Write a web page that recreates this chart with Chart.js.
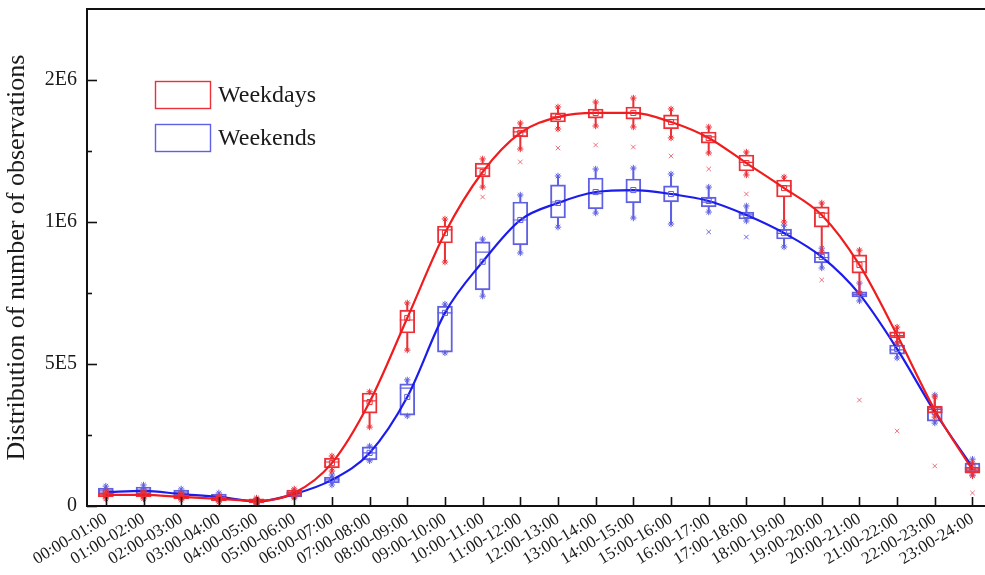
<!DOCTYPE html>
<html>
<head>
<meta charset="utf-8">
<script src="https://cdn.jsdelivr.net/npm/chart.js@4/dist/chart.umd.min.js"></script>
<style>
  html, body { margin: 0; padding: 0; background: #fff; }
  #wrap { width: 985px; height: 575px; overflow: hidden; position: relative; }
  canvas { display: block; }
</style>
</head>
<body>
<div id="wrap"><canvas id="c" width="1000" height="575" style="width:1000px;height:575px"></canvas></div>
<script>
// Hourly time slots
const HOURS = [
  '00:00-01:00','01:00-02:00','02:00-03:00','03:00-04:00','04:00-05:00','05:00-06:00',
  '06:00-07:00','07:00-08:00','08:00-09:00','09:00-10:00','10:00-11:00','11:00-12:00',
  '12:00-13:00','13:00-14:00','14:00-15:00','15:00-16:00','16:00-17:00','17:00-18:00',
  '18:00-19:00','19:00-20:00','20:00-21:00','21:00-22:00','22:00-23:00','23:00-24:00'
];

// Weekdays: box statistics per hour
const WD_MEAN   = [3.9e4, 3.9e4, 3.2e4, 2.5e4, 1.8e4, 4.6e4, 1.51e5, 3.66e5, 6.62e5, 9.61e5, 1.352e6, 1.627e6, 1.739e6, 1.768e6, 1.768e6, 1.704e6, 1.592e6, 1.415e6, 1.239e6, 1.049e6, 8.49e5, 6.02e5, 3.38e5, 1.27e5];
const WD_MEDIAN = [3.9e4, 3.9e4, 3.2e4, 2.5e4, 1.8e4, 4.6e4, 1.55e5, 3.70e5, 6.55e5, 9.72e5, 1.380e6, 1.634e6, 1.740e6, 1.770e6, 1.770e6, 1.720e6, 1.600e6, 1.420e6, 1.254e6, 1.063e6, 8.60e5, 6.00e5, 3.40e5, 1.27e5];
const WD_Q1     = [3.2e4, 3.2e4, 2.5e4, 1.8e4, 1.1e4, 3.5e4, 1.34e5, 3.27e5, 6.09e5, 9.26e5, 1.317e6, 1.599e6, 1.704e6, 1.732e6, 1.725e6, 1.655e6, 1.556e6, 1.359e6, 1.176e6, 9.82e5, 8.20e5, 5.92e5, 3.27e5, 1.16e5];
const WD_Q3     = [4.6e4, 4.6e4, 3.9e4, 3.2e4, 2.5e4, 5.6e4, 1.69e5, 3.98e5, 6.90e5, 9.86e5, 1.415e6, 1.669e6, 1.768e6, 1.796e6, 1.810e6, 1.754e6, 1.634e6, 1.472e6, 1.296e6, 1.106e6, 8.84e5, 6.13e5, 3.52e5, 1.37e5];
const WD_MIN    = [2.5e4, 2.5e4, 2.1e4, 1.4e4, 7.0e3, 3.2e4, 1.23e5, 2.78e5, 5.49e5, 8.59e5, 1.246e6, 1.514e6, 1.655e6, 1.676e6, 1.669e6, 1.592e6, 1.486e6, 1.331e6, 1.000e6, 8.94e5, 7.50e5, 5.74e5, 3.13e5, 1.06e5];
const WD_MAX    = [5.3e4, 5.3e4, 4.6e4, 3.5e4, 2.8e4, 6.0e4, 1.76e5, 4.02e5, 7.15e5, 1.021e6, 1.444e6, 1.697e6, 1.810e6, 1.845e6, 1.873e6, 1.796e6, 1.669e6, 1.493e6, 1.317e6, 1.134e6, 9.01e5, 6.30e5, 3.84e5, 1.51e5];
const WD_OUTLIER = [null, null, null, null, null, null, null, null, null, null, 1.176e6, 1.423e6, 1.521e6, 1.542e6, 1.528e6, 1.465e6, 1.373e6, 1.197e6, null, 7.96e5, 3.73e5, 2.64e5, 1.41e5, 4.6e4];

// Weekends: box statistics per hour
const WE_MEAN   = [4.9e4, 5.3e4, 4.2e4, 3.2e4, 1.6e4, 4.2e4, 9.2e4, 1.87e5, 3.84e5, 6.80e5, 8.60e5, 1.014e6, 1.134e6, 1.211e6, 1.225e6, 1.197e6, 1.148e6, 1.049e6, 9.61e5, 8.77e5, 7.46e5, 5.53e5, 3.31e5, 1.37e5];
const WE_MEDIAN = [5.3e4, 5.6e4, 4.6e4, 3.2e4, 1.6e4, 4.2e4, 9.2e4, 1.87e5, 4.15e5, 6.80e5, 8.94e5, 1.014e6, 1.141e6, 1.200e6, 1.220e6, 1.200e6, 1.140e6, 1.050e6, 9.60e5, 8.75e5, 7.45e5, 5.50e5, 3.30e5, 1.35e5];
const WE_Q1     = [4.2e4, 4.2e4, 3.5e4, 2.5e4, 1.1e4, 3.2e4, 8.1e4, 1.62e5, 3.20e5, 5.42e5, 7.61e5, 9.19e5, 1.028e6, 1.092e6, 1.134e6, 1.141e6, 1.106e6, 1.021e6, 9.40e5, 8.56e5, 7.36e5, 5.35e5, 2.99e5, 1.20e5];
const WE_Q3     = [6.3e4, 6.7e4, 5.6e4, 4.2e4, 2.1e4, 4.9e4, 1.02e5, 2.08e5, 4.30e5, 7.04e5, 9.30e5, 1.141e6, 1.261e6, 1.310e6, 1.303e6, 1.254e6, 1.176e6, 1.070e6, 9.75e5, 8.94e5, 7.54e5, 5.67e5, 3.49e5, 1.51e5];
const WE_MIN    = [3.5e4, 3.5e4, 3.2e4, 2.1e4, 7.0e3, 2.8e4, 7.4e4, 1.59e5, 3.17e5, 5.39e5, 7.39e5, 8.91e5, 9.82e5, 1.063e6, 1.028e6, 9.93e5, 1.070e6, 1.007e6, 9.12e5, 8.38e5, 7.22e5, 5.21e5, 2.92e5, 1.09e5];
const WE_MAX    = [7.0e4, 7.4e4, 6.0e4, 4.6e4, 2.5e4, 5.3e4, 1.09e5, 2.11e5, 4.44e5, 7.11e5, 9.40e5, 1.190e6, 1.324e6, 1.373e6, 1.380e6, 1.338e6, 1.246e6, 1.113e6, 9.89e5, 9.08e5, 7.85e5, 5.74e5, 3.91e5, 1.65e5];
const WE_OUTLIER = [null, null, null, null, null, null, null, null, null, null, null, null, null, null, null, null, 9.65e5, 9.47e5, null, null, null, null, null, null];

// Y axis ticks (the axis is compressed above 1E6)
const Y_TICK_VALUES = [0, 2.5e5, 5e5, 7.5e5, 1e6, 1.5e6, 2e6];
const Y_TICK_LABELS = ['0', '', '5E5', '', '1E6', '', '2E6'];
const Y_MAX = 2.5e6;
const Y_BREAK = 1e6;
const Y_UPPER_RATE = 0.5;

const SERIES_NAMES = ['Weekdays', 'Weekends'];

const RED = 'rgb(240,28,30)';
const RED_BOX = 'rgb(236,48,56)';
const RED_OUT = 'rgba(232,70,90,0.75)';
const BLUE = 'rgb(28,28,236)';
const BLUE_BOX = 'rgb(96,96,226)';
const BLUE_OUT = 'rgba(70,70,220,0.8)';
const FONT = "'Liberation Serif', 'Times New Roman', serif";

// Linear scale whose upper section (above the break) is drawn at a reduced rate
class BrokenLinearScale extends Chart.LinearScale {
  warp(v) { return v <= Y_BREAK ? v : Y_BREAK + (v - Y_BREAK) * Y_UPPER_RATE; }
  unwarp(w) { return w <= Y_BREAK ? w : Y_BREAK + (w - Y_BREAK) / Y_UPPER_RATE; }
  getPixelForValue(value) {
    if (value === null || value === undefined || isNaN(value)) return NaN;
    const lo = this.warp(this.min), hi = this.warp(this.max);
    return this.getPixelForDecimal((this.warp(value) - lo) / (hi - lo));
  }
  getValueForPixel(pixel) {
    const lo = this.warp(this.min), hi = this.warp(this.max);
    return this.unwarp(lo + this.getDecimalForPixel(pixel) * (hi - lo));
  }
}
BrokenLinearScale.id = 'brokenLinear';
BrokenLinearScale.defaults = Chart.LinearScale.defaults;
Chart.register(BrokenLinearScale);

function pairs(a, b) { return a.map((v, i) => [v, b[i]]); }

function seriesDatasets(name, q1, q3, med, mn, mx, mean, out, lineColor, boxColor, outColor, base) {
  return [
    { type: 'line', label: name + ' mean', data: mean, borderColor: lineColor, borderWidth: 2.2,
      cubicInterpolationMode: 'monotone', pointStyle: 'rect', pointRadius: 3.6,
      pointBorderColor: boxColor, pointBackgroundColor: 'rgba(0,0,0,0)', pointBorderWidth: 1,
      order: base },
    { type: 'bar', label: name, data: pairs(q1, q3), backgroundColor: 'rgba(0,0,0,0)',
      borderColor: boxColor, borderWidth: 1.3, borderSkipped: false, barThickness: 15,
      grouped: false, order: base + 5 },
    { type: 'bar', label: name + ' lower whisker', data: pairs(mn, q1), backgroundColor: boxColor,
      borderWidth: 0, barThickness: 1.4, grouped: false, order: base + 5 },
    { type: 'bar', label: name + ' upper whisker', data: pairs(q3, mx), backgroundColor: boxColor,
      borderWidth: 0, barThickness: 1.4, grouped: false, order: base + 5 },
    { type: 'line', label: name + ' median', data: med, showLine: false, pointStyle: 'line',
      pointRadius: 7.5, pointBorderColor: boxColor, pointBorderWidth: 1.2, order: base + 4 },
    { type: 'line', label: name + ' min', data: mn, showLine: false, pointStyle: 'star',
      pointRadius: 3.2, pointBorderColor: boxColor, pointBorderWidth: 1, order: base + 3 },
    { type: 'line', label: name + ' max', data: mx, showLine: false, pointStyle: 'star',
      pointRadius: 3.2, pointBorderColor: boxColor, pointBorderWidth: 1, order: base + 3 },
    { type: 'line', label: name + ' outliers', data: out, showLine: false, pointStyle: 'crossRot',
      pointRadius: 3.2, pointBorderColor: outColor, pointBorderWidth: 1, order: base + 3 }
  ];
}

// Frame, inward ticks and legend
const decorations = {
  id: 'decorations',
  afterDraw(chart) {
    const { ctx, chartArea: a, scales } = chart;
    ctx.save();
    ctx.strokeStyle = '#111';
    ctx.lineWidth = 1.6;
    // inward ticks on the y axis
    scales.y.ticks.forEach((t, i) => {
      const py = Math.round(scales.y.getPixelForValue(t.value)) + 0.5;
      const len = Y_TICK_LABELS[i] ? 10 : 5;
      ctx.beginPath(); ctx.moveTo(a.left, py); ctx.lineTo(a.left + len, py); ctx.stroke();
    });
    // inward ticks on the x axis
    HOURS.forEach((h, i) => {
      const px = Math.round(scales.x.getPixelForValue(i)) + 0.5;
      ctx.beginPath(); ctx.moveTo(px, a.bottom); ctx.lineTo(px, a.bottom - 9); ctx.stroke();
    });
    // frame
    ctx.lineWidth = 2;
    ctx.strokeRect(a.left, a.top, a.right - a.left, a.bottom - a.top);

    // legend
    const items = [[SERIES_NAMES[0], RED_BOX], [SERIES_NAMES[1], BLUE_BOX]];
    ctx.font = '24px ' + FONT;
    ctx.textBaseline = 'middle';
    ctx.textAlign = 'left';
    items.forEach(([name, color], k) => {
      const y = 81 + k * 43;
      ctx.strokeStyle = color;
      ctx.lineWidth = 1.4;
      ctx.strokeRect(155.5, y + 0.5, 55, 27);
      ctx.fillStyle = '#1a1a1a';
      ctx.fillText(name, 218, y + 15);
    });
    ctx.restore();
  }
};

const datasets = [
  ...seriesDatasets(SERIES_NAMES[0], WD_Q1, WD_Q3, WD_MEDIAN, WD_MIN, WD_MAX, WD_MEAN, WD_OUTLIER, RED, RED_BOX, RED_OUT, 0),
  ...seriesDatasets(SERIES_NAMES[1], WE_Q1, WE_Q3, WE_MEDIAN, WE_MIN, WE_MAX, WE_MEAN, WE_OUTLIER, BLUE, BLUE_BOX, BLUE_OUT, 10)
];

new Chart(document.getElementById('c'), {
  data: { labels: HOURS, datasets },
  options: {
    responsive: false,
    animation: false,
    devicePixelRatio: 1,
    layout: { padding: { top: 9, right: 3, left: 0, bottom: 0 } },
    plugins: { legend: { display: false }, tooltip: { enabled: false } },
    scales: {
      x: {
        type: 'category',
        offset: true,
        grid: { display: false, drawTicks: false },
        border: { display: false },
        ticks: {
          color: '#1a1a1a', font: { family: FONT, size: 17 },
          minRotation: 31, maxRotation: 31, autoSkip: false, padding: 3
        },
        afterFit(s) { s.height = 69; s.paddingLeft = 0; s.paddingRight = 0; }
      },
      y: {
        type: 'brokenLinear',
        min: 0, max: Y_MAX,
        grid: { display: false, drawTicks: false },
        border: { display: false },
        afterBuildTicks(s) { s.ticks = Y_TICK_VALUES.map(v => ({ value: v })); },
        ticks: {
          color: '#1a1a1a', font: { family: FONT, size: 20 }, padding: 10,
          callback: (v, i) => Y_TICK_LABELS[i]
        },
        title: {
          display: true, text: 'Distribution of number of observations',
          color: '#1a1a1a', font: { family: FONT, size: 26 }, padding: { top: 2, bottom: 4 }
        },
        afterFit(s) { s.width = 87; s.paddingTop = 0; s.paddingBottom = 0; }
      }
    }
  },
  plugins: [decorations]
});
</script>
</body>
</html>
